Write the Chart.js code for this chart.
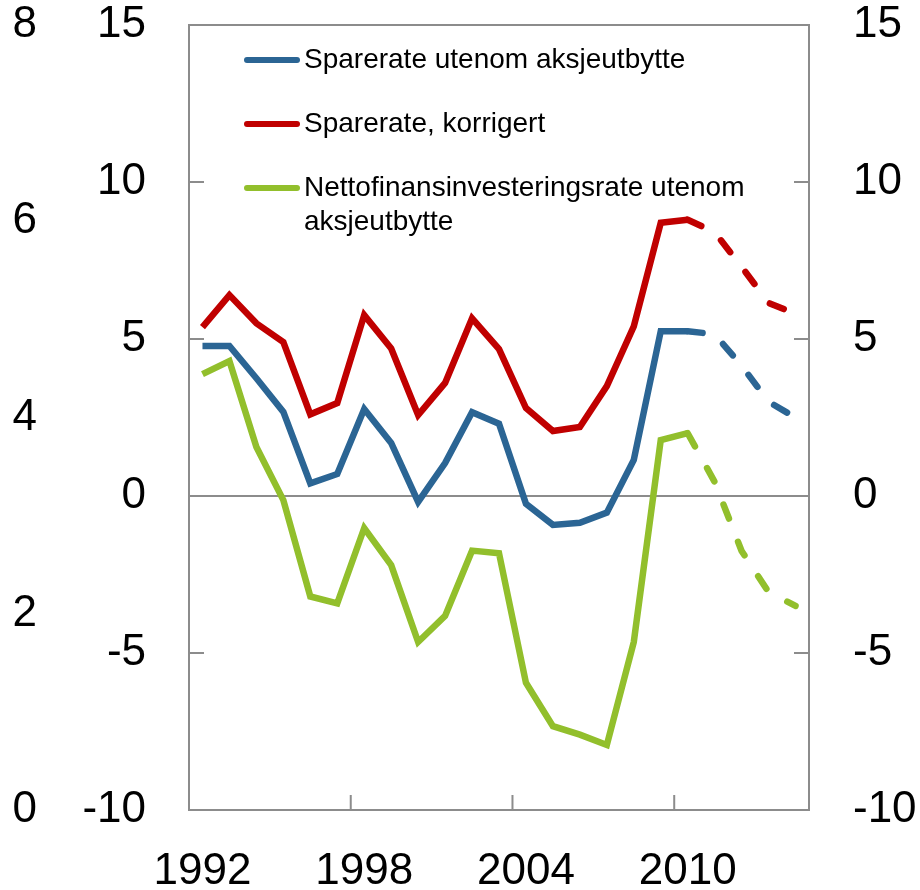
<!DOCTYPE html>
<html>
<head>
<meta charset="utf-8">
<script src="https://cdn.jsdelivr.net/npm/chart.js@4.4.1/dist/chart.umd.min.js"></script>
<style>
  html, body { margin: 0; padding: 0; background: #fff; }
</style>
</head>
<body>
<canvas id="savingChart" width="920" height="890"></canvas>
<script>
// Data
const years = ['1992', '1993', '1994', '1995', '1996', '1997', '1998', '1999', '2000', '2001', '2002', '2003',
               '2004', '2005', '2006', '2007', '2008', '2009', '2010', '2011', '2012', '2013', '2014'];
const sparerateUtenom = [4.78, 4.78, 3.75, 2.68, 0.4, 0.7, 2.77, 1.69, -0.19, 1.05, 2.67, 2.3,
                         -0.25, -0.92, -0.85, -0.53, 1.15, 5.25, 5.25, 5.15, 4.15, 3.0, 2.5];
const sparerateKorrigert = [5.38, 6.4, 5.5, 4.9, 2.6, 2.96, 5.76, 4.7, 2.58, 3.6, 5.66, 4.68,
                            2.8, 2.07, 2.2, 3.5, 5.4, 8.7, 8.8, 8.4, 7.3, 6.15, 5.8];
const nettofinans = [3.88, 4.3, 1.56, -0.13, -3.2, -3.42, -1.02, -2.2, -4.65, -3.82, -1.74, -1.82,
                     -5.95, -7.33, -7.6, -7.93, -4.65, 1.78, 2.0, 0.45, -1.75, -3.06, -3.5];
const legendLines = [['Sparerate utenom aksjeutbytte'], ['Sparerate, korrigert'],
                     ['Nettofinansinvesteringsrate utenom', 'aksjeutbytte']];
const forecastFrom = 18; // index of 2010, dashed afterwards

const FONT = '"Liberation Sans", Arial, sans-serif';
const GREY = '#8c8c8c';
const colors = ['#2b6594', '#c00000', '#92bf2c'];

Chart.defaults.font.family = FONT;
Chart.defaults.color = '#000';

// frame and inward tick stubs
const framePlugin = {
    id: 'frame',
    beforeDatasetsDraw(chart) {
        const { ctx, chartArea: a, scales } = chart;
        ctx.save();
        ctx.strokeStyle = GREY;
        ctx.lineWidth = 2;
        ctx.strokeRect(a.left, a.top, a.right - a.left, a.bottom - a.top);
        ctx.beginPath();
        scales.y.ticks.forEach(t => {
            const py = scales.y.getPixelForValue(t.value);
            ctx.moveTo(a.left, py); ctx.lineTo(a.left + 15, py);
            ctx.moveTo(a.right - 15, py); ctx.lineTo(a.right, py);
        });
        years.forEach((yr, i) => {
            if (i > 0 && i % 6 === 0) {
                const px = (scales.x.getPixelForValue(i - 1) + scales.x.getPixelForValue(i)) / 2;
                ctx.moveTo(px, a.bottom); ctx.lineTo(px, a.bottom - 15);
            }
        });
        ctx.stroke();
        ctx.restore();
    }
};

// legend drawn inside the plot area
const innerLegend = {
    id: 'innerLegend',
    afterDraw(chart) {
        const { ctx, chartArea: a } = chart;
        const rows = [35, 99, 163];
        ctx.save();
        ctx.font = '28px ' + FONT;
        ctx.textBaseline = 'middle';
        ctx.fillStyle = '#000';
        chart.data.datasets.forEach((ds, i) => {
            const y = a.top + rows[i];
            ctx.strokeStyle = ds.borderColor;
            ctx.lineWidth = 6;
            ctx.lineCap = 'round';
            ctx.beginPath();
            ctx.moveTo(a.left + 58, y);
            ctx.lineTo(a.left + 108, y);
            ctx.stroke();
            legendLines[i].forEach((line, j) => {
                ctx.fillText(line, a.left + 115, y + j * 34);
            });
        });
        ctx.restore();
    }
};

function makeDataset(label, data, color) {
    return {
        label: label,
        data: data,
        borderColor: color,
        borderWidth: 6.5,
        pointRadius: 0,
        tension: 0,
        fill: false,
        yAxisID: 'y',
        segment: {
            borderDash: ctx => ctx.p0DataIndex >= forecastFrom ? [15, 25] : undefined,
            borderCapStyle: ctx => ctx.p0DataIndex >= forecastFrom ? 'round' : 'butt'
        }
    };
}

const tickFont = { size: 44, family: FONT };

// fixed width for a vertical axis, without extra top/bottom space
function fitVertical(width) {
    return s => {
        s.width = width;
        s.paddingTop = 25;
        s.paddingBottom = 25;
    };
}

new Chart(document.getElementById('savingChart'), {
    type: 'line',
    data: {
        labels: years,
        datasets: [
            makeDataset(legendLines[0].join(' '), sparerateUtenom, colors[0]),
            makeDataset(legendLines[1].join(' '), sparerateKorrigert, colors[1]),
            makeDataset(legendLines[2].join(' '), nettofinans, colors[2])
        ]
    },
    options: {
        responsive: false,
        animation: false,
        layout: { padding: 0 },
        plugins: {
            legend: { display: false },
            tooltip: { enabled: false }
        },
        scales: {
            x: {
                type: 'category',
                offset: true,
                grid: { display: false, drawTicks: false },
                border: { display: false },
                ticks: {
                    autoSkip: false,
                    maxRotation: 0,
                    padding: 40,
                    font: { size: 44, family: FONT, lineHeight: 1 },
                    callback: (v, i) => i % 6 === 0 ? years[i] : ''
                },
                afterFit: s => { s.height = 80; }
            },
            y: {
                position: 'left',
                weight: 0,
                min: -10,
                max: 15,
                ticks: { stepSize: 5, padding: 43, font: tickFont },
                grid: {
                    drawTicks: false,
                    lineWidth: 2,
                    color: ctx => ctx.tick && ctx.tick.value === 0 ? GREY : 'rgba(0,0,0,0)'
                },
                border: { display: false },
                afterFit: fitVertical(107)
            },
            yOuter: {
                position: 'left',
                weight: 1,
                min: 0,
                max: 8,
                ticks: { stepSize: 2, padding: 45, font: tickFont },
                grid: { display: false, drawTicks: false },
                border: { display: false },
                afterFit: fitVertical(82)
            },
            yRight: {
                position: 'right',
                min: -10,
                max: 15,
                ticks: { stepSize: 5, padding: 44, font: tickFont },
                grid: { display: false, drawTicks: false },
                border: { display: false },
                afterFit: fitVertical(111)
            }
        }
    },
    plugins: [framePlugin, innerLegend]
});
</script>
</body>
</html>
